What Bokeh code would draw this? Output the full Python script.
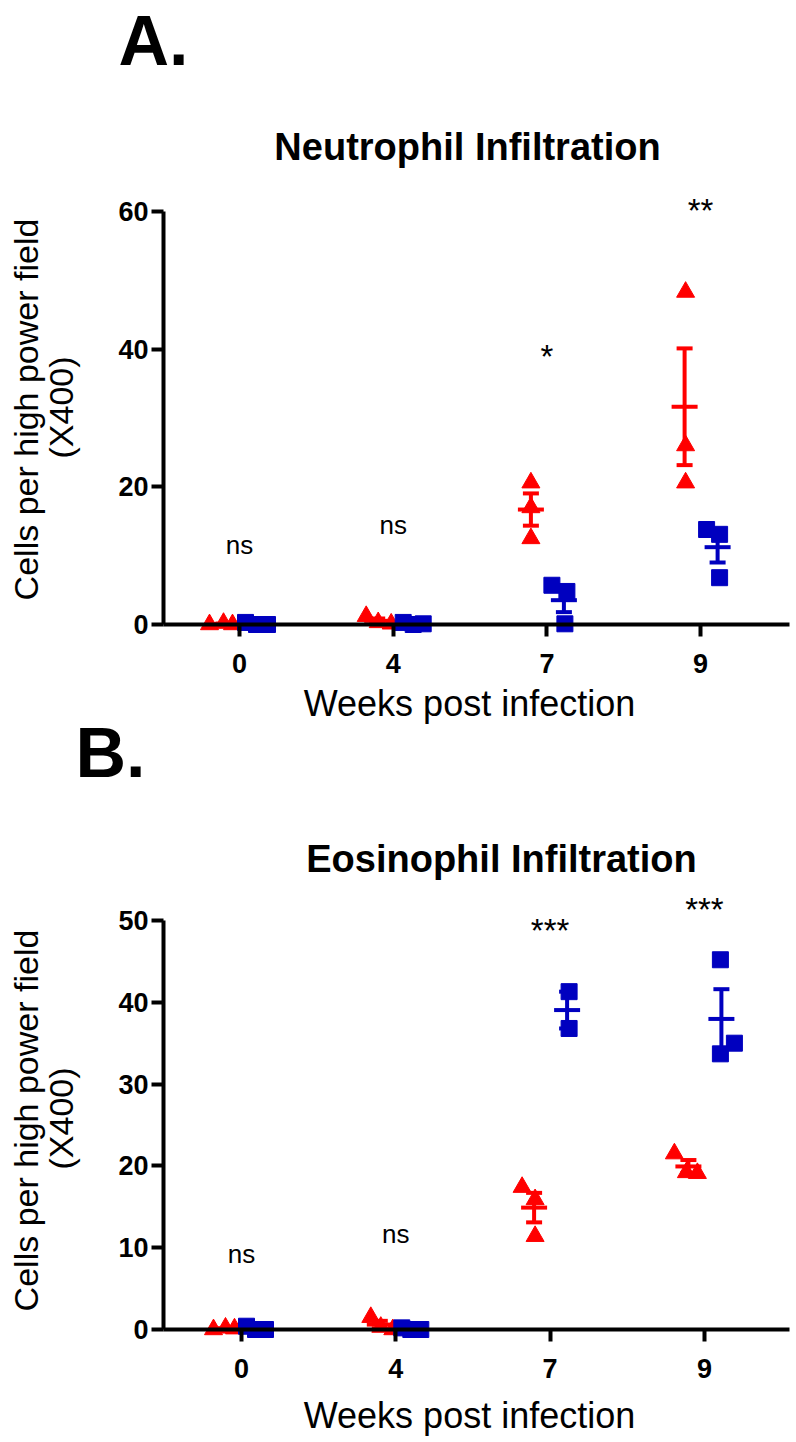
import numpy as np
from bokeh.plotting import figure
from bokeh.models import Range1d, FixedTicker, Label, LinearAxis, ColumnDataSource
from bokeh.embed import file_html
from bokeh.resources import INLINE
from bokeh.core.properties import value

# ---------------- data ----------------
weeks = ["0", "4", "7", "9"]

# Neutrophil infiltration (cells per high power field, X400)
neut_tri = [[0.0, 0.2, 0.0], [1.2, 0.3, 0.1], [20.6, 17.0, 12.5], [48.3, 26.0, 20.6]]
neut_sq = [[0.3, 0.0, 0.0], [0.3, 0.1, 0.0], [5.7, 4.8, 0.1], [13.8, 13.1, 6.8]]
neut_sig = ["ns", "ns", "*", "**"]
neut_sig_y = [11.5, 14.4, 38.9, 60.1]

# Eosinophil infiltration
eos_tri = [[0.0, 0.2, 0.1], [1.5, 0.3, 0.0], [17.4, 15.9, 11.4], [21.5, 19.2, 19.1]]
eos_sq = [[0.4, 0.0, 0.0], [0.2, 0.0, 0.0], [41.3, 36.8], [45.2, 35.0, 33.7]]
eos_sig = ["ns", "ns", "***", "***"]
eos_sig_y = [9.2, 11.7, 48.8, 51.3]

# horizontal scatter of points inside each group (pixels)
neut_tri_jit = [[-30, -16, -7], [-27, -15, -2], [-16, -16, -16], [-15, -15, -15]]
neut_sq_jit = [[6, 28, 17], [10, 30, 20], [5, 20, 18], [6, 19, 19]]
eos_tri_jit = [[-28, -16, -7], [-25, -15, -3], [-28, -15, -15], [-30, -18, -7]]
eos_sq_jit = [[5, 24, 14], [6, 25, 15], [19, 19], [16, 30, 16]]

RED = "#FF0000"
BLUE = "#0000BF"
FONT = "Liberation Sans"
W, H = 796, 1442

# pixel geometry of the two panels (page pixels)
geoA = dict(x0=239, dx=153.7, y0=624, ytop=211, ymax=60)
geoB = dict(x0=241, dx=154.3, y0=1329, ytop=920, ymax=50)


def mappers(g):
    ppu = (g["y0"] - g["ytop"]) / g["ymax"]
    return (lambda px: (px - g["x0"]) / g["dx"]), (lambda py: (g["y0"] - py) / ppu)


XA, YA = mappers(geoA)
XB, YB = mappers(geoB)

p = figure(width=W, height=H,
           x_range=Range1d(XA(0), XA(W)), y_range=Range1d(YA(H), YA(0)),
           output_backend="svg", toolbar_location=None,
           min_border_left=0, min_border_right=0, min_border_top=0, min_border_bottom=0)
p.extra_x_ranges = {"xB": Range1d(XB(0), XB(W))}
p.extra_y_ranges = {"yB": Range1d(YB(H), YB(0))}
p.title.visible = False
p.outline_line_color = None
p.xgrid.visible = False
p.ygrid.visible = False
p.background_fill_color = "white"
p.border_fill_color = "white"

xB_axis = LinearAxis(x_range_name="xB", y_range_name="yB")
yB_axis = LinearAxis(x_range_name="xB", y_range_name="yB")
p.add_layout(xB_axis, "below")
p.add_layout(yB_axis, "left")


def style_axes(xax, yax, X, ymax, ystep):
    for ax in (xax, yax):
        ax.axis_line_width = 4
        ax.axis_line_color = "black"
        ax.major_tick_line_width = 4
        ax.major_tick_line_color = "black"
        ax.major_tick_in = 0
        ax.major_tick_out = 12
        ax.minor_tick_line_color = None
        ax.major_label_text_font = FONT
        ax.major_label_text_font_style = "bold"
        ax.major_label_text_font_size = "27px"
        ax.major_label_text_color = "black"
    xax.fixed_location = 0
    xax.bounds = (X(163), X(789))
    xax.ticker = FixedTicker(ticks=list(range(len(weeks))))
    xax.major_label_overrides = {i: w for i, w in enumerate(weeks)}
    xax.major_label_standoff = 17
    yax.fixed_location = X(163)
    yax.bounds = (0, ymax)
    yax.ticker = FixedTicker(ticks=list(range(0, ymax + 1, ystep)))
    yax.major_label_standoff = 3


style_axes(p.xaxis[0], p.yaxis[0], XA, 60, 20)
style_axes(xB_axis, yB_axis, XB, 50, 10)


def draw_groups(tri, sq, tri_jit, sq_jit, sig, sig_y, dx, rn):
    for vals, jit, color, marker, off in ((tri, tri_jit, RED, "triangle", -16),
                                         (sq, sq_jit, BLUE, "square", 17)):
        xs, ys = [], []
        mx, mm, lo, hi = [], [], [], []
        for i, (v, j) in enumerate(zip(vals, jit)):
            for vv, jj in zip(v, j):
                xs.append(i + jj / dx)
                ys.append(vv)
            arr = np.array(v, dtype=float)
            m = arr.mean()
            s = arr.std(ddof=1) / np.sqrt(len(arr))
            mx.append(i + off / dx)
            mm.append(m)
            lo.append(m - s)
            hi.append(m + s)
        p.scatter(xs, ys, marker=marker, size=18 if marker == "triangle" else 16,
                  fill_color=color, line_color=color, line_width=1, **rn)
        p.segment(mx, lo, mx, hi, line_color=color, line_width=4, **rn)
        p.scatter(mx, lo, marker="dash", size=16, line_color=color, line_width=4, **rn)
        p.scatter(mx, hi, marker="dash", size=16, line_color=color, line_width=4, **rn)
        p.scatter(mx, mm, marker="dash", size=26, line_color=color, line_width=4, **rn)
    src = ColumnDataSource(dict(
        x=list(range(len(weeks))), y=sig_y, t=sig,
        fs=["26px" if s == "ns" else "33px" for s in sig]))
    p.text(x="x", y="y", text="t", source=src, text_font_size="fs",
           text_font=value(FONT),
           text_align="center", text_baseline="middle", text_color="black", **rn)


draw_groups(neut_tri, neut_sq, neut_tri_jit, neut_sq_jit, neut_sig, neut_sig_y,
            geoA["dx"], {})
draw_groups(eos_tri, eos_sq, eos_tri_jit, eos_sq_jit, eos_sig, eos_sig_y,
            geoB["dx"], dict(x_range_name="xB", y_range_name="yB"))


def label(px, py, text, size, bold=False, angle=0.0, align="center"):
    p.add_layout(Label(x=XA(px), y=YA(py), text=text, text_font=FONT,
                       text_font_style="bold" if bold else "normal",
                       text_font_size=size, text_color="black", angle=angle,
                       text_align=align, text_baseline="middle"))


for letter, lx, ly, title, tx, ty, yl, xl in (
        ("A.", 118, 40, "Neutrophil Infiltration", 467, 146, 409, 703),
        ("B.", 75, 752, "Eosinophil Infiltration", 501, 858, 1120, 1415)):
    label(lx, ly, letter, "70px", bold=True, align="left")
    label(tx, ty, title, "38px", bold=True)
    label(25, yl, "Cells per high power field", "34px", angle=np.pi / 2)
    label(60, yl - 2, "(X400)", "34px", angle=np.pi / 2)
    label(469, xl, "Weeks post infection", "36px")

open("out.html", "w").write(file_html(p, INLINE))
